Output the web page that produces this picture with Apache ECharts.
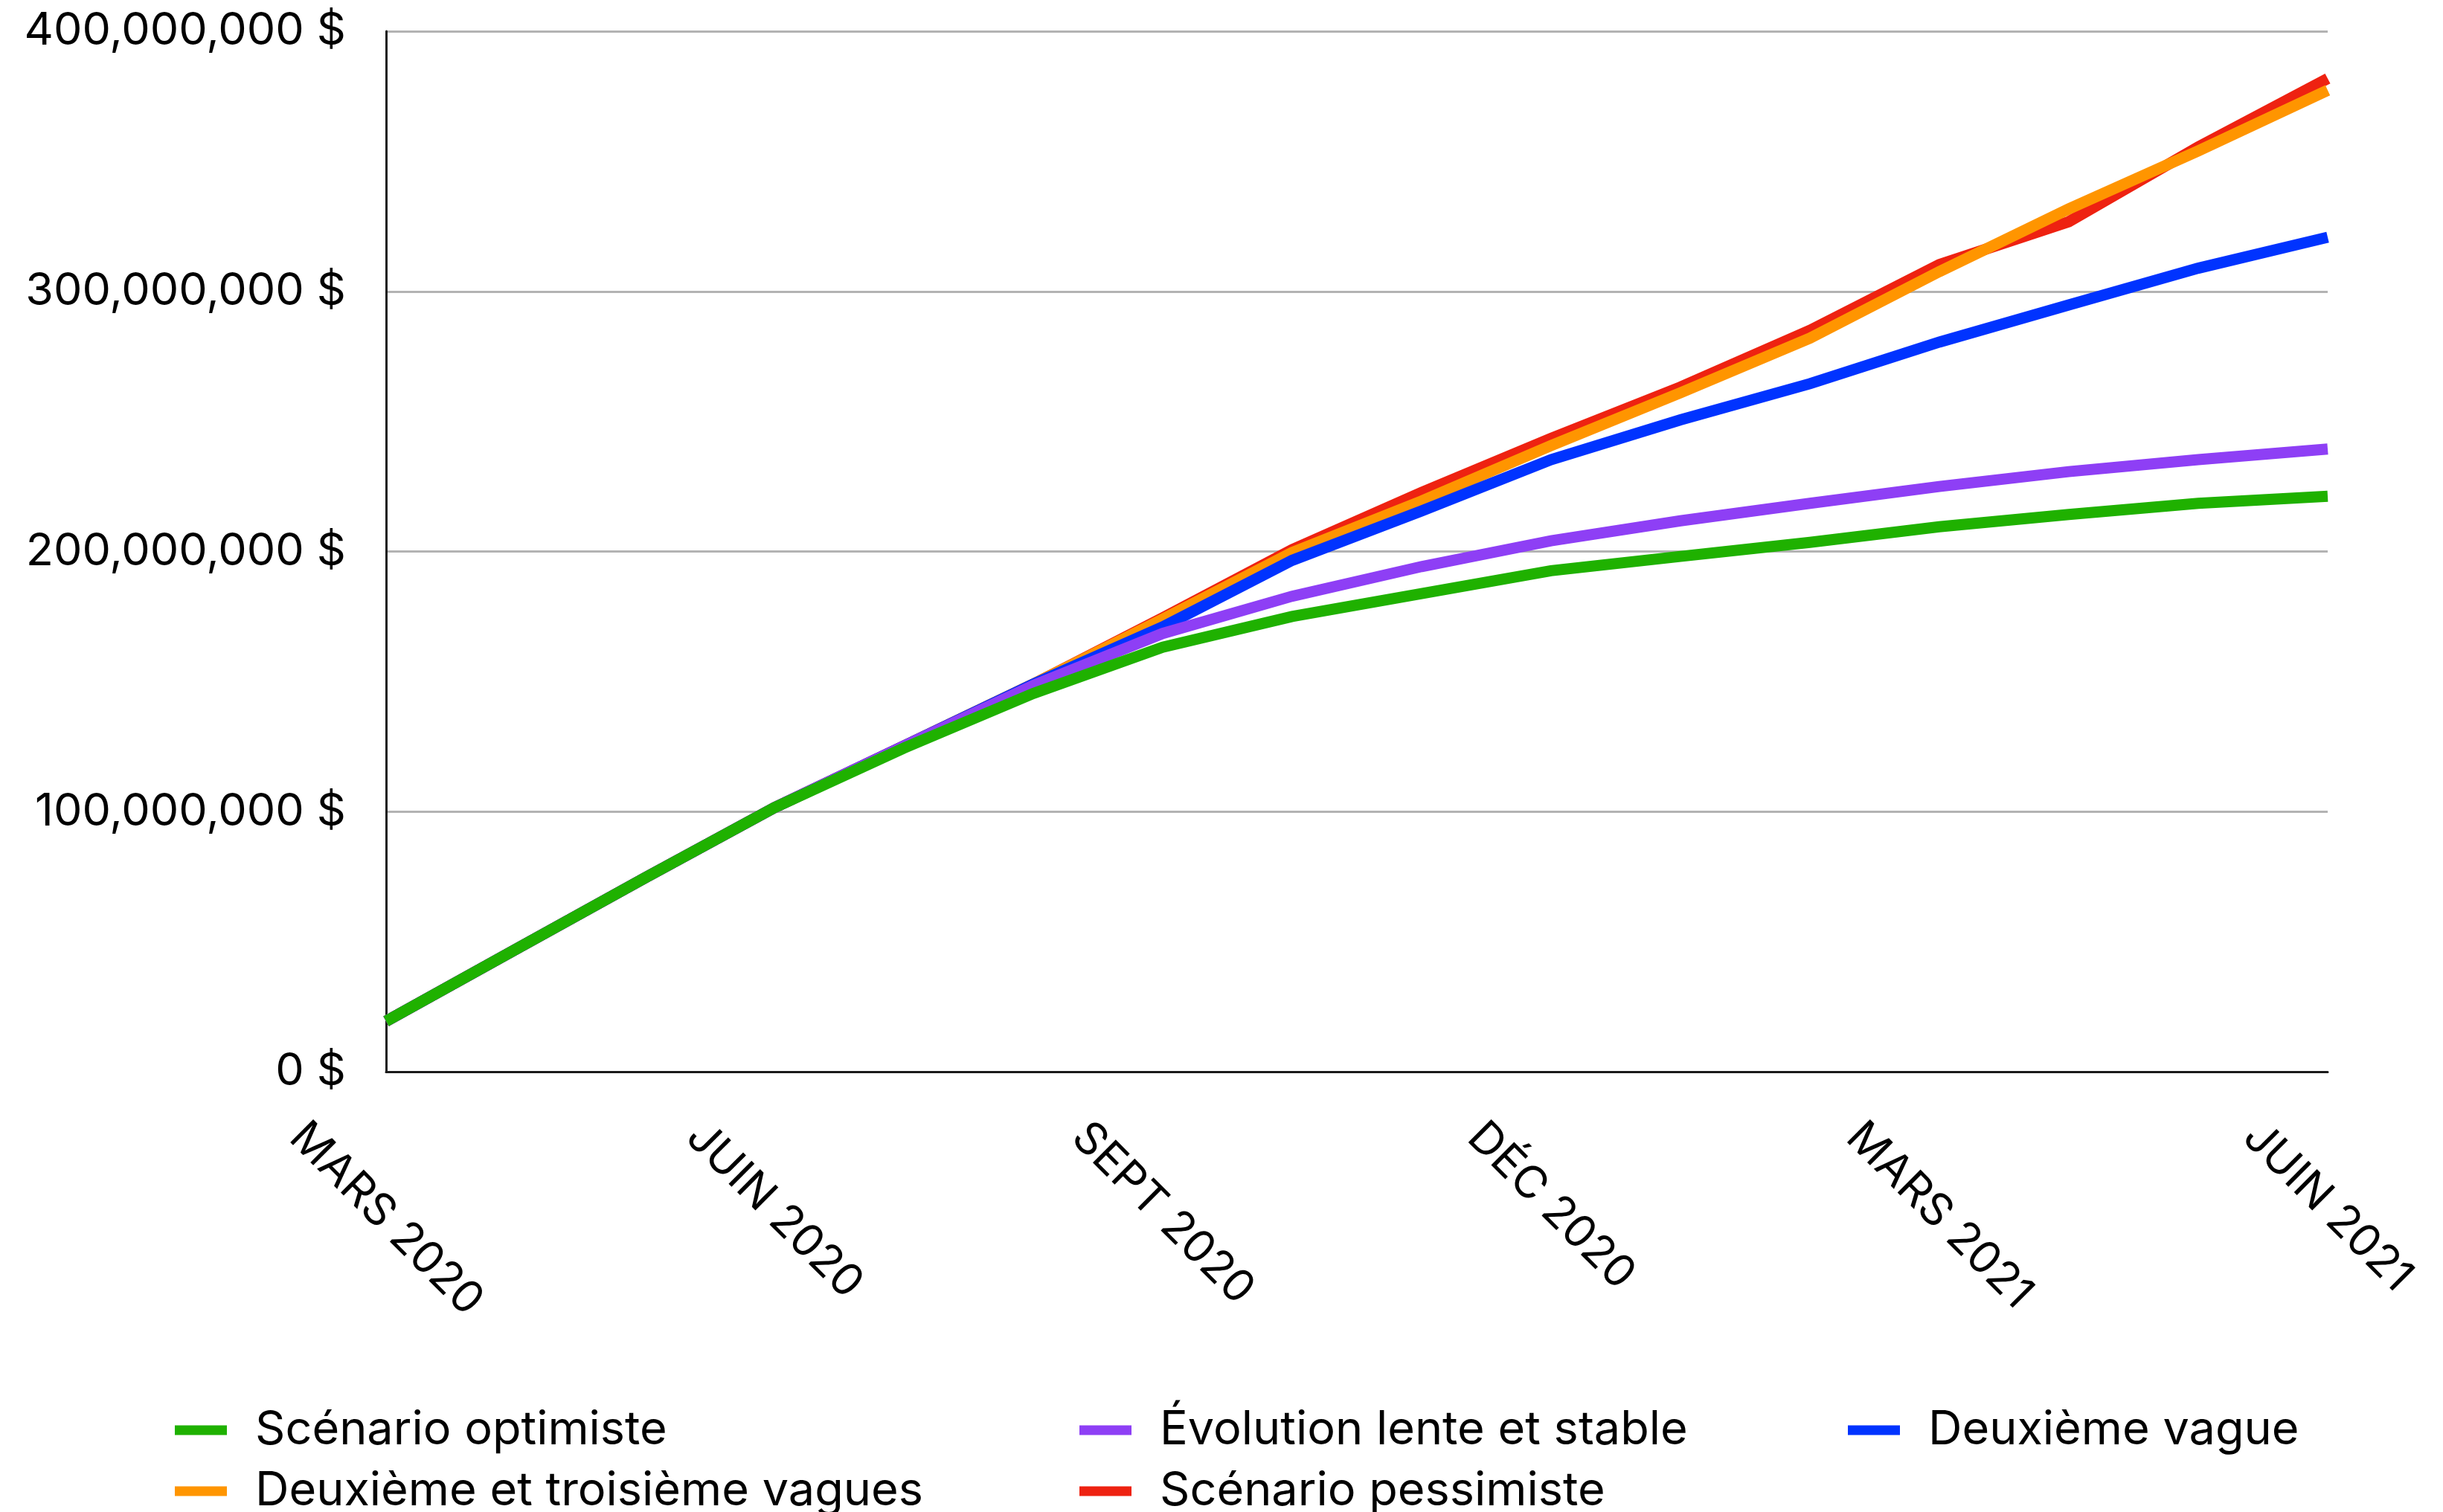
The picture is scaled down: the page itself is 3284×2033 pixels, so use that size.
<!DOCTYPE html>
<html><head><meta charset="utf-8">
<script src="https://cdn.jsdelivr.net/npm/echarts@6/dist/echarts.min.js"></script>
<style>html,body{margin:0;padding:0;background:#fff}#c{width:3284px;height:2033px}</style>
</head><body><div id="c"></div>
<script>
// ---- data ----
const months = ['MARS 2020','AVR 2020','MAI 2020','JUIN 2020','JUIL 2020','AOÛT 2020','SEPT 2020','OCT 2020','NOV 2020','DÉC 2020','JANV 2021','FÉVR 2021','MARS 2021','AVR 2021','MAI 2021','JUIN 2021'];
const yTicks = [0, 100e6, 200e6, 300e6, 400e6];
const names = ['Scénario optimiste','Évolution lente et stable','Deuxième vague','Deuxième et troisième vagues','Scénario pessimiste'];
const colors = ['#1fb100','#8e3ff5','#0033ff','#ff9500','#ee2211'];
const optimiste  = [19.4e6, 47e6, 74.5e6, 101.5e6, 124.4e6, 145.4e6, 163.2e6, 175e6, 183.8e6, 192.6e6, 198.1e6, 203.5e6, 209.5e6, 214.2e6, 218.5e6, 221.2e6];
const lente      = [19.4e6, 47e6, 74.5e6, 101.5e6, 125.2e6, 148.5e6, 168.5e6, 182.8e6, 194.2e6, 204.1e6, 211.8e6, 218.5e6, 225e6, 230.7e6, 235.3e6, 239.4e6];
const deuxieme   = [19.4e6, 47e6, 74.5e6, 101.5e6, 125.2e6, 149e6, 171e6, 196.6e6, 215.6e6, 235.3e6, 250.6e6, 264.5e6, 280.5e6, 294.8e6, 308.9e6, 320.8e6];
const troisieme  = [19.4e6, 47e6, 74.5e6, 101.5e6, 125.2e6, 149e6, 174e6, 199.6e6, 219.4e6, 240.7e6, 261e6, 282e6, 307.6e6, 331.7e6, 354e6, 377.3e6];
const pessimiste = [19.4e6, 47e6, 74.5e6, 101.5e6, 125.2e6, 149e6, 174.5e6, 200.7e6, 222.7e6, 243.5e6, 263.2e6, 285e6, 310.3e6, 326.8e6, 355.5e6, 381.8e6];
const values = [optimiste, lente, deuxieme, troisieme, pessimiste];

// ---- layout ----
const FONT = 'Inter';
const FS = 60;      // x labels
const FSY = 61;     // y labels
const FSL = 63;     // legend
const labelEvery = 3;
const ctx = document.createElement('canvas').getContext('2d');
ctx.font = FS + 'px ' + FONT;
const capH = FS * 0.727;
const T = 63; // top of rotated label bbox below axis
const C = months.map(m => T + (ctx.measureText(m).width + capH) / (2 * Math.SQRT2));
const shown = months.map((m, i) => i % labelEvery === 0);
const margin = Math.min(...C.filter((c, i) => shown[i]));
const rich = {};
months.forEach((m, i) => {
  const d = (C[i] - margin) / Math.SQRT2;
  rich['p' + i] = { fontFamily: FONT, fontSize: FS, color: '#000', padding: [2 * d, 0, 0, 2 * d] };
});

const legendPos = [[235, 1923], [1451, 1923], [2484, 1923], [235, 2005], [1451, 2005]];
const zs = [10, 9, 8, 7, 6];

const chart = echarts.init(document.getElementById('c'), null, { renderer: 'canvas' });
chart.setOption({
  animation: false,
  backgroundColor: '#fff',
  grid: { left: 519, right: 155, top: 42, bottom: 592, containLabel: false },
  legend: names.map((n, i) => ({
    data: [n], left: legendPos[i][0], top: legendPos[i][1] - 36, padding: 0,
    icon: 'rect', itemWidth: 70, itemHeight: 13, selectedMode: false,
    textStyle: { fontFamily: FONT, fontSize: FSL, color: '#000', lineHeight: 72, padding: [0, 0, 0, 33] }
  })),
  xAxis: {
    type: 'category', data: months, boundaryGap: false,
    axisLine: { lineStyle: { color: '#1a1a1a', width: 3 } },
    axisTick: { show: false },
    axisLabel: {
      interval: labelEvery - 1, rotate: -45, align: 'center', verticalAlign: 'middle',
      margin: margin, fontFamily: FONT, fontSize: FS, color: '#000',
      formatter: (v, i) => '{p' + i + '|' + v + '}', rich: rich
    },
    splitLine: { show: false }
  },
  yAxis: {
    type: 'value', min: yTicks[0], max: yTicks[yTicks.length - 1], interval: yTicks[1] - yTicks[0],
    axisLine: { show: true, lineStyle: { color: '#1a1a1a', width: 3 } },
    axisTick: { show: false },
    axisLabel: { margin: 54, fontFamily: FONT, fontSize: FSY, color: '#000',
      formatter: v => v.toLocaleString('en-US') + ' $' },
    splitLine: { lineStyle: { color: '#b3b3b3', width: 3 } }
  },
  series: names.map((n, i) => ({
    name: n, type: 'line', data: values[i], z: zs[i], showSymbol: false, symbol: 'none',
    color: colors[i], lineStyle: { color: colors[i], width: 15, cap: 'butt', join: 'miter' },
    emphasis: { disabled: true }
  }))
});
</script></body></html>
